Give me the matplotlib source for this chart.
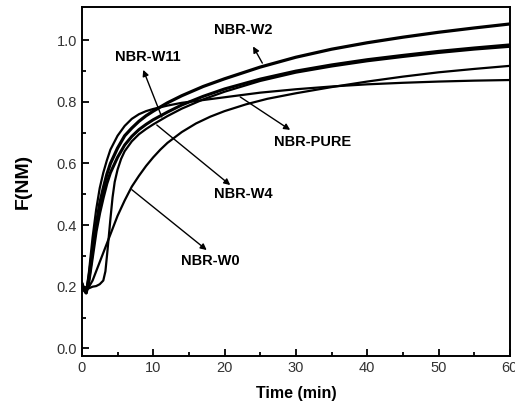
import numpy as np
import matplotlib.pyplot as plt

plt.rcParams['font.family'] = ['Liberation Sans', 'DejaVu Sans']

# readings (time in min, F in NM)
t_pure = [0, 0.3, 0.6, 1, 1.5, 2, 2.5, 3, 3.5, 4, 5, 6, 7, 8, 9, 10, 12, 14, 17, 20,
          25, 30, 35, 40, 45, 50, 55, 60]
f_pure = [0.21, 0.19, 0.18, 0.25, 0.36, 0.45, 0.52, 0.57, 0.61, 0.645, 0.69, 0.722, 0.745,
          0.76, 0.77, 0.777, 0.788, 0.797, 0.806, 0.815, 0.83, 0.841, 0.85, 0.857, 0.862,
          0.866, 0.869, 0.871]

t_w2 = [0, 0.3, 0.6, 1, 1.5, 2, 2.5, 3, 3.5, 4, 5, 6, 7, 8, 9, 10, 12, 14, 17, 20,
        25, 30, 35, 40, 45, 50, 55, 60]
f_w2 = [0.21, 0.19, 0.18, 0.23, 0.32, 0.40, 0.47, 0.52, 0.565, 0.60, 0.65, 0.69, 0.715,
        0.737, 0.755, 0.77, 0.797, 0.82, 0.85, 0.875, 0.913, 0.945, 0.971, 0.992, 1.01,
        1.026, 1.04, 1.053]

t_w11 = [0, 0.3, 0.6, 1, 1.5, 2, 2.5, 3, 3.5, 4, 5, 6, 7, 8, 9, 10, 12, 14, 17, 20,
         25, 30, 35, 40, 45, 50, 55, 60]
f_w11 = [0.21, 0.19, 0.18, 0.22, 0.30, 0.38, 0.44, 0.49, 0.535, 0.57, 0.62, 0.66, 0.688,
         0.71, 0.727, 0.742, 0.767, 0.79, 0.818, 0.842, 0.874, 0.90, 0.92, 0.937, 0.951,
         0.964, 0.975, 0.985]

t_w4 = [0, 0.3, 0.6, 1, 1.5, 2, 2.5, 3, 3.3, 3.6, 4, 4.3, 4.6, 5, 5.5, 6, 7, 8, 9, 10,
        12, 14, 17, 20, 25, 30, 35, 40, 45, 50, 55, 60]
f_w4 = [0.21, 0.195, 0.19, 0.195, 0.20, 0.202, 0.208, 0.22, 0.25, 0.32, 0.42, 0.49, 0.54,
        0.58, 0.615, 0.64, 0.672, 0.695, 0.712, 0.727, 0.754, 0.778, 0.808, 0.833, 0.868,
        0.895, 0.915, 0.932, 0.946, 0.959, 0.97, 0.979]

t_w0 = [0, 0.3, 0.6, 1, 1.5, 2, 2.5, 3, 3.5, 4, 5, 6, 7, 8, 9, 10, 11, 12, 14, 16, 18,
        20, 23, 26, 30, 35, 40, 45, 50, 55, 60]
f_w0 = [0.21, 0.195, 0.19, 0.20, 0.22, 0.25, 0.28, 0.31, 0.34, 0.37, 0.43, 0.48, 0.525,
        0.56, 0.592, 0.62, 0.645, 0.667, 0.702, 0.73, 0.752, 0.77, 0.792, 0.81, 0.828,
        0.848, 0.866, 0.882, 0.896, 0.907, 0.917]

# label text, text position, arrow tail on curve, arrow head
labels = ['NBR-W2', 'NBR-W11', 'NBR-W4', 'NBR-PURE', 'NBR-W0']
label_xy = [(22.6, 1.033), (9.3, 0.946), (22.6, 0.50), (32.3, 0.67), (18.0, 0.284)]
arrow_from = [(25.3, 0.926), (11.2, 0.751), (10.5, 0.725), (22.2, 0.816), (7.0, 0.515)]
arrow_to = [(24.0, 0.98), (8.6, 0.904), (20.8, 0.53), (29.2, 0.709), (17.5, 0.319)]

fig = plt.figure(figsize=(5.15, 4.13), dpi=100)
ax = fig.add_axes([0.159, 0.138, 0.831, 0.845])

ax.plot(t_w0, f_w0, color='black', lw=1.6)
ax.plot(t_pure, f_pure, color='black', lw=1.6)
ax.plot(t_w4, f_w4, color='black', lw=1.6)
ax.plot(t_w11, f_w11, color='black', lw=2.2)
ax.plot(t_w2, f_w2, color='black', lw=2.3)

for lab, pos, a0, a1 in zip(labels, label_xy, arrow_from, arrow_to):
    ax.text(pos[0], pos[1], lab, ha='center', va='center', fontsize=10.5, fontweight='bold')
    ax.annotate('', xy=a1, xytext=a0,
                arrowprops=dict(arrowstyle='-|>', color='black', lw=1.0,
                                mutation_scale=9, shrinkA=0, shrinkB=0))

ax.set_xlim(0, 60)
ax.set_ylim(-0.025, 1.108)
ax.set_xticks(np.arange(0, 61, 10))
ax.set_xticks(np.arange(5, 60, 10), minor=True)
ax.set_yticks(np.arange(0, 1.01, 0.2))
ax.set_yticks(np.arange(0.1, 1.1, 0.2), minor=True)
ax.yaxis.set_major_formatter(plt.FormatStrFormatter('%.1f'))
ax.tick_params(which='both', direction='in', width=1.3, labelsize=10.5, labelcolor='#333333')
ax.tick_params(which='major', length=5)
ax.tick_params(which='minor', length=3)
for s in ax.spines.values():
    s.set_linewidth(1.4)

ax.set_xlabel('Time (min)', fontsize=11.5, fontweight='bold', labelpad=8)
ax.set_ylabel('F(NM)', fontsize=14, fontweight='bold', labelpad=18)

fig.savefig('out.png', dpi=100)
